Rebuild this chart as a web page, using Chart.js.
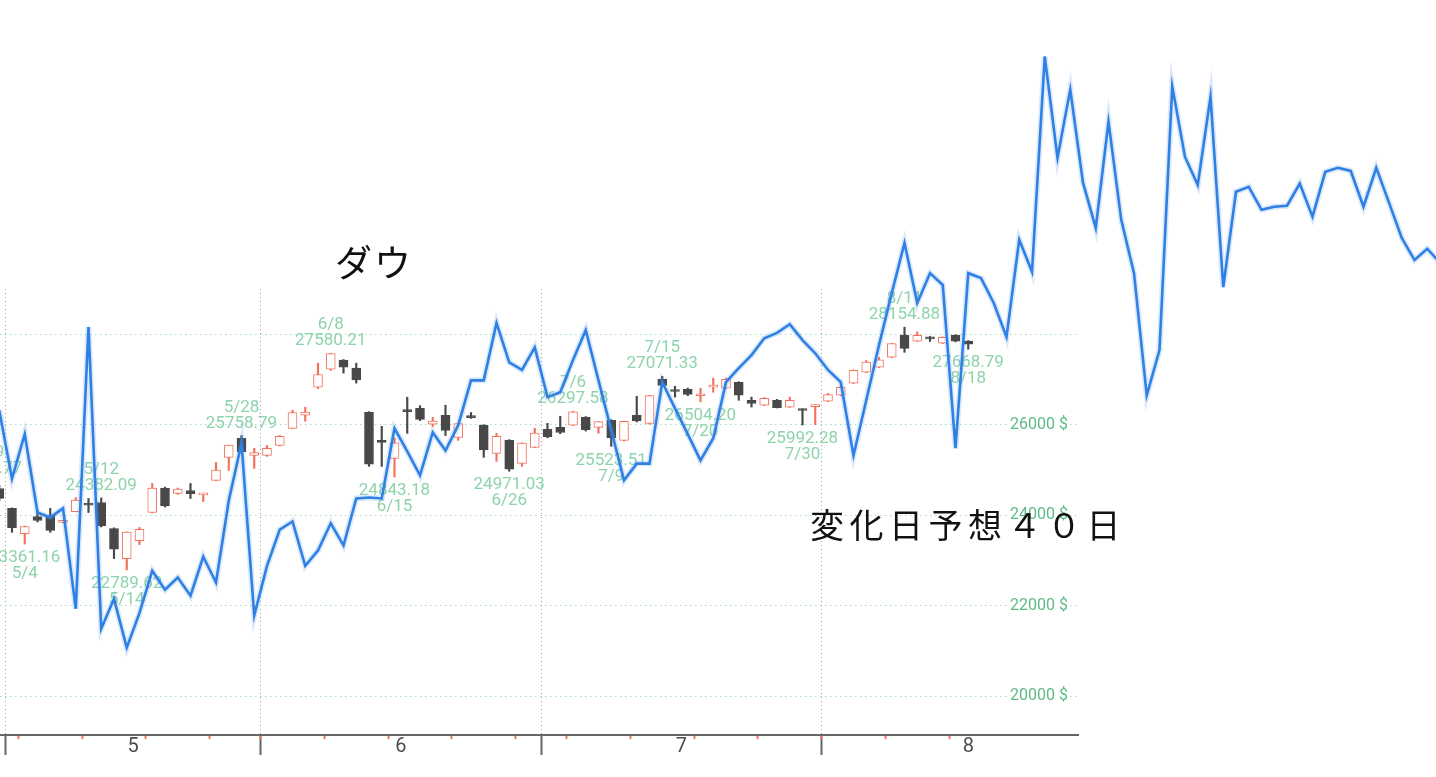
<!DOCTYPE html>
<html>
<head>
<meta charset="utf-8">
<script src="https://cdn.jsdelivr.net/npm/chart.js@4.4.0/dist/chart.umd.min.js"></script>
<style>
body { margin: 0; background: #fff; }
#wrap { position: relative; width: 1436px; height: 777px; overflow: hidden; background: #fff; }
.note { position: absolute; font-family: "Noto Sans CJK JP", sans-serif; color: #111; line-height: 1; white-space: nowrap; }
</style>
</head>
<body>
<div id="wrap">
  <canvas id="myChart" width="1436" height="777"></canvas>
  <div class="note" style="left:335px; top:243px; font-size:37px; letter-spacing:2px;">ダウ</div>
  <div class="note" style="left:810px; top:507px; font-size:34px; letter-spacing:5.5px;">変化日予想４０日</div>
</div>
<script>
// trading days (2020), one candle each
var days = ['4/29','4/30','5/1','5/4','5/5','5/6','5/7','5/8','5/11','5/12','5/13','5/14','5/15','5/18','5/19','5/20','5/21','5/22','5/26','5/27','5/28','5/29',
  '6/1','6/2','6/3','6/4','6/5','6/8','6/9','6/10','6/11','6/12','6/15','6/16','6/17','6/18','6/19','6/22','6/23','6/24','6/25','6/26','6/29','6/30',
  '7/1','7/2','7/6','7/7','7/8','7/9','7/10','7/13','7/14','7/15','7/16','7/17','7/20','7/21','7/22','7/23','7/24','7/27','7/28','7/29','7/30','7/31',
  '8/3','8/4','8/5','8/6','8/7','8/10','8/11','8/12','8/13','8/14','8/17','8/18'];

var open = [24400,24590,24150,23590,23970,23990,23840,24080,24240,24280,23704,23040,23438,24059,24591,24480,24546,24450,24768,25277,25698,25322,
  25322,25543,25920,26208,26829,27227,27427,27249,26275,25654,25255,26319,26363,26009,26208,25721,26170,25987,25366,25654,25145,25499,
  25898,25942,25987,26164,25942,26097,25654,26208,26031,27006,26760,26784,26640,26830,26806,26939,26540,26430,26540,26385,26340,26400,
  26518,26651,26917,27161,27272,27493,27981,27848,27910,27803,27981,27848];
var high = [24764.77,24660,24160,23760,24100,24150,23870,24390,24369,24382.09,23720,23630,23727,24701,24620,24600,24701,24475,25167,25550,25758.79,25477,
  25540,25760,26320,26386,27360,27580.21,27440,27360,26290,25964,25700,26607,26420,26164,26430,26030,26270,26000,25810,25670,25600,25920,
  26030,26186,26297.58,26180,26070,26110,26080,26629,26650,27071.33,26850,26810,26806,27028,27030,26950,26610,26600,26560,26610,26350,26440,
  26690,26850,27210,27420,27490,27800,28154.88,28050,27950,27940,27990,27860];
var low = [24300,24320,23620,23361.16,23850,23620,23830,24075,24059,23740,23040,22789.62,23350,24050,24180,24460,24369,24302,24760,24989,25380,25034,
  25300,25530,25910,26075,26800,27200,27140,26920,25080,25078,24843.18,25809,26090,25960,25760,25654,26140,25277,25190,24971.03,25080,25490,
  25710,25800,25980,25860,25810,25523.51,25640,26060,26010,26850,26610,26640,26504.20,26718,26800,26540,26390,26420,26370,26380,25992.28,26000,
  26510,26640,26910,27150,27260,27480,27600,27840,27840,27790,27830,27668.79];
var close = [24634,24370,23726,23749,23883,23664,23860,24331,24221,23764,23248,23625,23685,24597,24206,24575,24474,24465,24995,25548,25401,25383,
  25475,25742,26269,26281,27110,27572,27272,26990,25128,25606,25600,26290,26119,26080,25871,26024,26156,25445,25745,25015,25595,25813,
  25734,25827,26287,25890,26067,25706,26075,26085,26642,26870,26734,26672,26680,26840,27005,26652,26469,26584,26379,26539,26313,26428,
  26664,26828,27201,27386,27433,27791,27686,27976,27896,27931,27844,27778];

// blue line, one point per trading day starting 4/30
var forecastStart = '4/30';
var forecast = [26320,24810,25790,24060,23950,24150,21930,28160,21490,22150,
  21070,21840,22770,22350,22620,22220,23080,22510,24320,25590,
  21780,22880,23680,23860,22880,23220,23820,23330,24370,24390,
  24370,25920,25410,24880,25830,25430,25990,26980,26980,28250,
  27380,27210,27710,26610,26720,27430,28090,26980,25880,24770,
  25140,25140,26940,26360,25790,25210,25700,26940,27250,27540,
  27910,28030,28220,27870,27580,27210,26940,25320,26540,27760,
  28910,30020,28690,29350,29090,25480,29350,29240,28690,27940,
  30090,29380,34140,31900,33410,31350,30350,32700,30530,29350,
  26650,27650,33480,31920,31300,33250,29040,31150,31260,30750,
  30820,30840,31330,30600,31590,31680,31610,30820,31680,30910,
  30130,29640,29890,29580];

// marked highs and lows
var peakDays = ['4/29','5/4','5/12','5/14','5/28','6/8','6/15','6/26','7/6','7/9','7/15','7/20','7/30','8/11','8/18'];
var peakSide = ['high','low','high','low','high','high','low','low','high','low','high','low','low','high','low'];

var priceTicks = [20000, 22000, 24000, 26000, 28000];
var priceLabels = ['20000 $', '22000 $', '24000 $', '26000 $', ''];
var monthNames = ['5', '6', '7', '8'];
var monthMid = [11.5, 32.5, 54.5, 77];

var xFrom = 1.059, xTo = 85.608, yFrom = 19140, yTo = 29000;
var red = '#f2725c', dark = '#484848';

var monthEdges = [], weekEdges = [];
for (var k = 1; k < days.length; k++) {
    var a = days[k - 1].split('/'), b = days[k].split('/');
    if (a[0] !== b[0]) monthEdges.push(k - 0.5);
    var wa = new Date(2020, a[0] - 1, a[1]).getDay();
    var wb = new Date(2020, b[0] - 1, b[1]).getDay();
    if (wb < wa) weekEdges.push(k - 0.5);
}

var up = close.map(function(c, k){ return c >= open[k]; });
var bodies = days.map(function(d, k){ return {x: k, y: [open[k], close[k]]}; });
var wicks = days.map(function(d, k){ return {x: k, y: [low[k], high[k]]}; });
var first = days.indexOf(forecastStart);
var line = forecast.map(function(v, j){ return {x: first + j, y: v}; });

function fixRange(scale) { scale.min = xFrom; scale.max = xTo; }
function tickAt(values) {
    return function(scale) {
        scale.ticks = values.map(function(v){ return {value: v}; });
    };
}
function blank() { return ''; }

var peakPlugin = {
    id: 'peaks',
    beforeDatasetsDraw: function(chart) {
        var c = chart.ctx, xs = chart.scales.x, ys = chart.scales.y;
        c.save();
        c.font = '17px Roboto';
        c.fillStyle = '#8dd3ab';
        c.textAlign = 'center';
        c.textBaseline = 'middle';
        peakDays.forEach(function(d, n) {
            var k = days.indexOf(d);
            var isHigh = peakSide[n] === 'high';
            var v = isHigh ? high[k] : low[k];
            var px = xs.getPixelForValue(k);
            var py = ys.getPixelForValue(v);
            if (isHigh) {
                c.fillText(v.toFixed(2), px, py - 12);
                c.fillText(d, px, py - 28);
            } else {
                c.fillText(v.toFixed(2), px, py + 14);
                c.fillText(d, px, py + 30);
            }
        });
        c.restore();
    }
};

var ctx = document.getElementById('myChart');
var myChart = new Chart(ctx, {
  type: 'line',
  data: {
    datasets: [
      {
        data: line,
        borderColor: '#2f80e4',
        borderWidth: 2.6,
        pointRadius: 0,
        clip: false,
        order: 0
      },
      {
        data: line,
        borderColor: 'rgba(80,145,235,0.2)',
        borderWidth: 6,
        pointRadius: 0,
        clip: false,
        order: 1
      },
      {
        type: 'bar',
        data: bodies,
        grouped: false,
        barThickness: 9,
        minBarLength: 2,
        borderWidth: 1,
        borderSkipped: false,
        backgroundColor: up.map(function(u){ return u ? '#ffffff' : dark; }),
        borderColor: up.map(function(u){ return u ? red : dark; }),
        order: 2
      },
      {
        type: 'bar',
        data: wicks,
        grouped: false,
        barThickness: 1.5,
        borderWidth: 0,
        backgroundColor: up.map(function(u){ return u ? red : dark; }),
        order: 3
      }
    ]
  },
  options: {
    responsive: false,
    animation: false,
    events: [],
    layout: { padding: { left: 0, top: 289, right: 358, bottom: 42 } },
    plugins: { legend: { display: false }, tooltip: { enabled: false } },
    scales: {
      x: {
        type: 'linear',
        position: { y: yFrom },
        offset: false,
        bounds: 'data',
        afterDataLimits: fixRange,
        afterBuildTicks: tickAt(monthEdges),
        grid: { color: '#9a9a9a', lineWidth: 1, offset: false, tickLength: 19, tickWidth: 2, tickColor: '#666666' },
        border: { display: true, color: '#666666', width: 2, dash: [1, 3] },
        ticks: { autoSkip: false, callback: blank }
      },
      xw: {
        type: 'linear',
        position: { y: yFrom },
        offset: false,
        bounds: 'data',
        afterDataLimits: fixRange,
        afterBuildTicks: tickAt(weekEdges),
        grid: { drawOnChartArea: false, offset: false, tickLength: 4, tickWidth: 2, tickColor: red },
        border: { display: false },
        ticks: { autoSkip: false, callback: blank }
      },
      xm: {
        type: 'linear',
        position: { y: yFrom },
        offset: false,
        bounds: 'data',
        afterDataLimits: fixRange,
        afterBuildTicks: tickAt(monthMid),
        grid: { display: false, drawTicks: false },
        border: { display: false },
        ticks: {
          autoSkip: false, maxRotation: 0, padding: 0,
          color: '#4d4d4d', font: { family: 'Roboto', size: 20 },
          callback: function(v, i){ return monthNames[i]; }
        }
      },
      y: {
        type: 'linear',
        min: yFrom,
        max: yTo,
        position: { x: 84.824 },
        afterBuildTicks: tickAt(priceTicks),
        grid: { color: '#a6dcc3', lineWidth: 1, drawTicks: false },
        border: { display: false, dash: [1.5, 3.5] },
        ticks: {
          autoSkip: false,
          color: '#5dba85',
          font: { family: 'Roboto', size: 16 },
          callback: function(v, i){ return priceLabels[i]; },
          showLabelBackdrop: true,
          backdropColor: '#ffffff',
          backdropPadding: function(c) {
            return priceLabels[c.index] === '' ? {left: 67, right: 10, top: 2, bottom: 2} : {left: 9, right: 10, top: 2, bottom: 2};
          }
        }
      }
    }
  },
  plugins: [peakPlugin]
});
</script>
</body>
</html>
